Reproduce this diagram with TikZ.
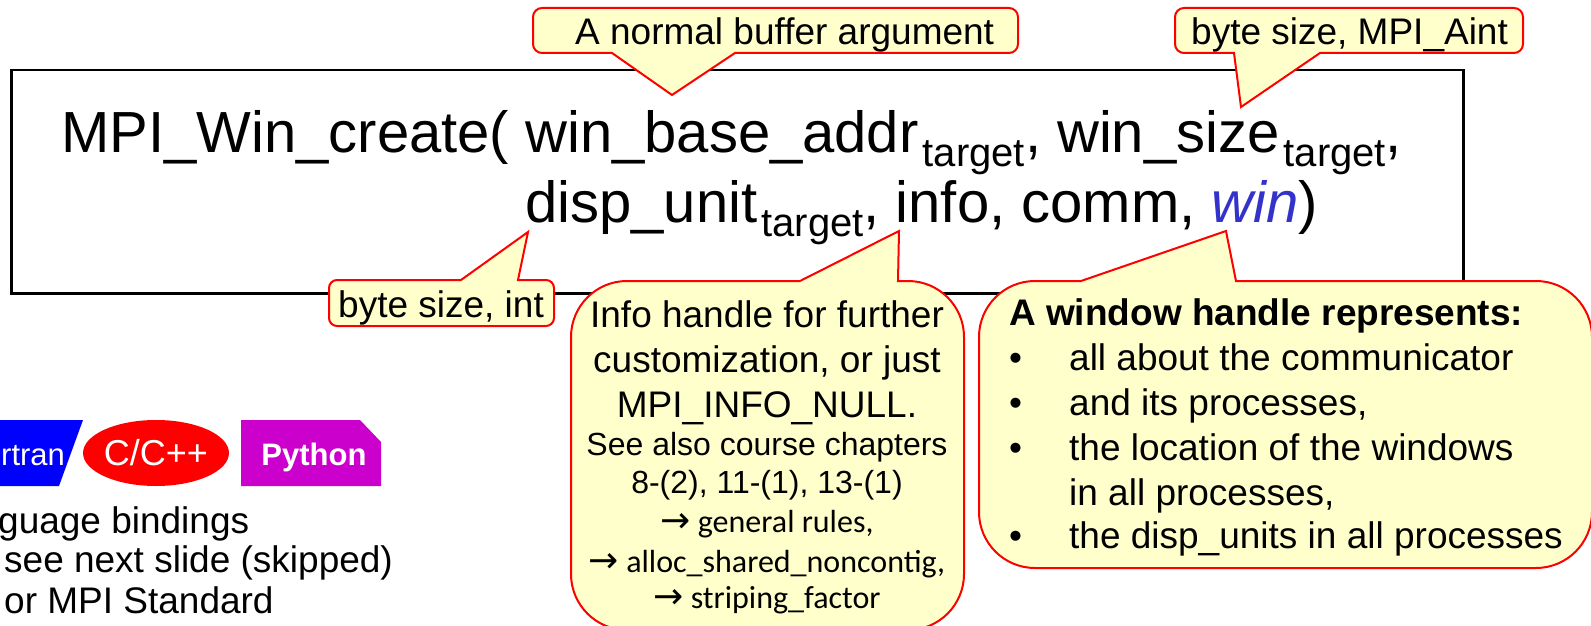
\documentclass[tikz,border=0pt]{standalone}
\usepackage{fontspec}
\setmainfont{Liberation Sans}
\newfontfamily\calib{Carlito}
\newfontfamily\dejavu{DejaVu Sans}
\definecolor{notey}{HTML}{FFFFCC}
\definecolor{calloutred}{HTML}{FF0000}
\definecolor{winblue}{HTML}{3333CC}
\definecolor{ftnblue}{HTML}{0000FF}
\definecolor{pymag}{HTML}{CC00CC}
\newcommand\setfs[1]{\fontsize{#1}{#1}\selectfont}
\newcommand\tgt{\hspace{4pt}\raisebox{-14pt}{\setfs{40}target}}
\newcommand\rarr{{\dejavu\setfs{36}→}}
% rounded balloon: #1 x1, #2 top, #3 x2, #4 bottom, #5 radius,
% #6 pointer segments on the top edge, #7 pointer segments on the bottom edge
\newcommand\balloon[7]{%
  \path[balloon] (#1+#5,-#2) #6 -- (#3-#5,-#2)
    arc[start angle=90,end angle=0,radius=#5] -- (#3,-#4+#5)
    arc[start angle=0,end angle=-90,radius=#5] #7 -- (#1+#5,-#4)
    arc[start angle=270,end angle=180,radius=#5] -- (#1,-#2-#5)
    arc[start angle=180,end angle=90,radius=#5] -- cycle;}
\tikzset{
  balloon/.style={fill=notey, draw=calloutred, line width=2pt, line join=miter},
  txt/.style={inner sep=0pt, anchor=base west},
  ctxt/.style={inner sep=0pt, anchor=base},
  frame/.style={draw=black, line width=2.5pt, inner sep=0pt, anchor=north west},
}
\begin{document}
\begin{tikzpicture}[x=1pt,y=1pt]
\useasboundingbox (0,0) rectangle (1591,-626);
\clip (0,0) rectangle (1591,-626);

% the call box
\node[frame, minimum width=1452pt, minimum height=223pt] (call) at (10,-69) {};
\node[txt] (line1) at (61,-152)
  {\setfs{58}MPI\_Win\_create( win\_base\_addr\tgt, win\_size\tgt,};
\node[txt] (line2) at (525,-222)
  {\setfs{58}disp\_unit\tgt, info, comm, {\color{winblue}\itshape win})};

% pointer tips
\coordinate (tipbuf) at (672,-95);
\coordinate (tipaint) at (1241,-107);
\coordinate (tipint) at (528,-232);
\coordinate (tipinfo) at (899,-231);
\coordinate (tipwin) at (1226,-231);

% balloons
\balloon{533}{8}{1018}{53}{9}{}{-- (735,-53) -- (tipbuf) -- (612,-53)}
\balloon{1175}{8}{1523}{53}{9}{}{-- (1320,-53) -- (tipaint) -- (1234,-53)}
\balloon{329}{280}{554}{326}{8}{-- (461,-280) -- (tipint) -- (518,-280)}{}
\balloon{571}{281}{964}{630}{56}{-- (800,-281) -- (tipinfo) -- (898,-281)}{}
\balloon{979}{281}{1592}{568}{56}{-- (1081,-281) -- (tipwin) -- (1236,-281)}{}

\node[txt] (buf) at (575,-45) {\setfs{37}A normal buffer argument};
\node[txt] (aint) at (1191,-45) {\setfs{37}byte size, MPI\_Aint};
\node[txt] (int) at (338,-317) {\setfs{37}byte size, int};

% info balloon text
\node[ctxt] (i1) at (767,-327) {\setfs{37}Info handle for further};
\node[ctxt] (i2) at (767,-372) {\setfs{37}customization, or just};
\node[ctxt] (i3) at (767,-417) {\setfs{37}MPI\_INFO\_NULL.};
\node[ctxt] (i4) at (767,-455) {\setfs{32}See also course chapters};
\node[ctxt] (i5) at (767,-493) {\setfs{32}8-(2), 11-(1), 13-(1)};
\node[ctxt] (i6) at (767,-532) {\calib\setfs{32}\rarr{} general rules,};
\node[ctxt] (i7) at (767,-572) {\calib\setfs{32}\rarr{} alloc\_shared\_noncontig,};
\node[ctxt] (i8) at (767,-608) {\calib\setfs{32}\rarr{} striping\_factor};

% window balloon text
\node[txt] (w0) at (1009,-325) {\setfs{37}\bfseries A window handle represents:};
\node[txt] (d1) at (1009,-370) {\setfs{37}•};
\node[txt] (w1) at (1069,-370) {\setfs{37}all about the communicator};
\node[txt] (d2) at (1009,-415) {\setfs{37}•};
\node[txt] (w2) at (1069,-415) {\setfs{37}and its processes,};
\node[txt] (d3) at (1009,-460) {\setfs{37}•};
\node[txt] (w3) at (1069,-460) {\setfs{37}the location of the windows};
\node[txt] (w4) at (1069,-505) {\setfs{37}in all processes,};
\node[txt] (d5) at (1009,-548) {\setfs{37}•};
\node[txt] (w5) at (1069,-548) {\setfs{37}the disp\_units in all processes};

% language badges
\fill[ftnblue] (-10,-420) -- (83,-420) -- (59,-486) -- (-10,-486) -- cycle;
\fill[calloutred] (156,-453) ellipse[x radius=73, y radius=33];
\fill[pymag] (241,-420) -- (360,-420) -- (381,-442) -- (381,-486) -- (241,-486) -- cycle;
\node[txt, text=white] (ftn) at (1,-465) {\setfs{31}rtran};
\node[ctxt, text=white] (cpp) at (156,-465) {\setfs{36}C/C++};
\node[ctxt, text=white] (py) at (314,-465) {\setfs{31}\bfseries Python};

\node[txt] (lb1) at (-2,-533) {\setfs{37}guage bindings};
\node[txt] (lb2) at (4,-572) {\setfs{37}see next slide (skipped)};
\node[txt] (lb3) at (4,-613) {\setfs{37}or MPI Standard};
\end{tikzpicture}
\end{document}
